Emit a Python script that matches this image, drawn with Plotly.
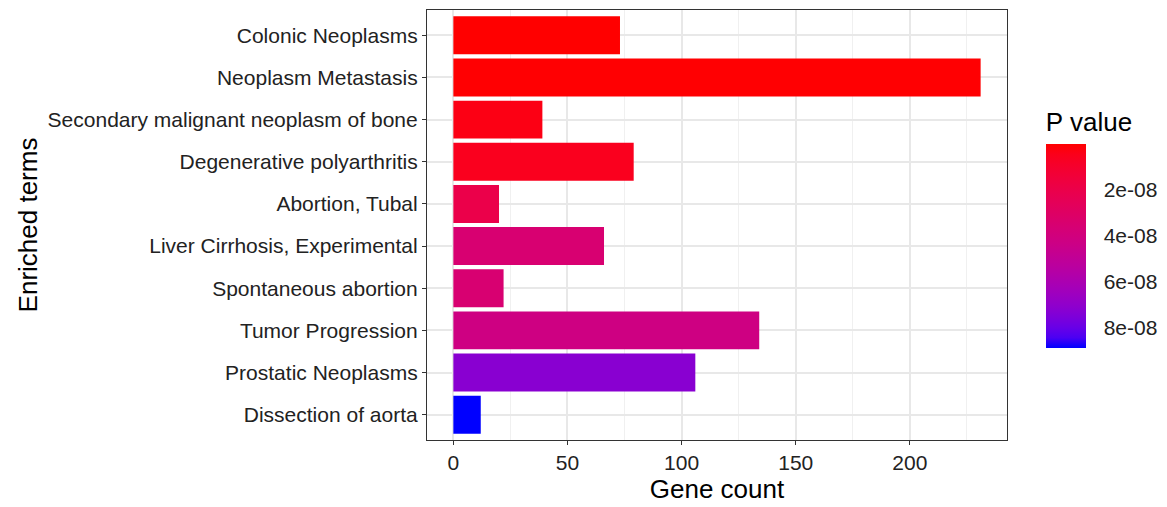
import plotly.graph_objects as go

terms = ["Colonic Neoplasms", "Neoplasm Metastasis", "Secondary malignant neoplasm of bone",
         "Degenerative polyarthritis", "Abortion, Tubal", "Liver Cirrhosis, Experimental",
         "Spontaneous abortion", "Tumor Progression", "Prostatic Neoplasms", "Dissection of aorta"]
gene_counts = [73, 231, 39, 79, 20, 66, 22, 134, 106, 12]
p_values = [1.0e-10, 4.0e-10, 3.5e-9, 5.5e-9, 2.0e-8, 3.5e-8, 3.5e-8, 4.2e-8, 7.2e-8, 8.87e-8]
cbar_tickvals = [2e-8, 4e-8, 6e-8, 8e-8]
cbar_ticktext = ["2e-08", "4e-08", "6e-08", "8e-08"]
x_tickvals = [0, 50, 100, 150, 200]
x_minor = [25, 75, 125, 175, 225]

# Lab interpolation red -> blue (like ggplot2 scale_fill_gradient)
def _lin(c):
    c = c / 255.0
    return c / 12.92 if c <= 0.04045 else ((c + 0.055) / 1.055) ** 2.4
def _unlin(c):
    c = 12.92 * c if c <= 0.0031308 else 1.055 * c ** (1 / 2.4) - 0.055
    return max(0, min(255, round(c * 255)))
def rgb2lab(rgb):
    r, g, b = [_lin(v) for v in rgb]
    X = 0.4124 * r + 0.3576 * g + 0.1805 * b
    Y = 0.2126 * r + 0.7152 * g + 0.0722 * b
    Z = 0.0193 * r + 0.1192 * g + 0.9505 * b
    def f(t):
        return t ** (1 / 3) if t > 0.008856 else 7.787 * t + 16 / 116
    fx, fy, fz = f(X / 0.95047), f(Y), f(Z / 1.08883)
    return (116 * fy - 16, 500 * (fx - fy), 200 * (fy - fz))
def lab2rgb(lab):
    L, a, b = lab
    fy = (L + 16) / 116
    fx = fy + a / 500
    fz = fy - b / 200
    def finv(t):
        return t ** 3 if t ** 3 > 0.008856 else (t - 16 / 116) / 7.787
    X, Y, Z = 0.95047 * finv(fx), finv(fy), 1.08883 * finv(fz)
    r = 3.2406 * X - 1.5372 * Y - 0.4986 * Z
    g = -0.9689 * X + 1.8758 * Y + 0.0415 * Z
    bb = 0.0557 * X - 0.2040 * Y + 1.0570 * Z
    return (_unlin(r), _unlin(g), _unlin(bb))

# Colour scale on negated p so that the colour bar reads low (red) at top
lo, hi = rgb2lab((0, 0, 255)), rgb2lab((255, 0, 0))
colorscale = []
for i in range(21):
    t = i / 20
    lab = tuple(lo[k] + (hi[k] - lo[k]) * t for k in range(3))
    r, g, b = lab2rgb(lab)
    colorscale.append([t, f"rgb({r},{g},{b})"])

neg_p = [-p for p in p_values]
neg_tickvals = [-v for v in cbar_tickvals]

FONT = "Liberation Sans, Arial, sans-serif"
TXT = "#222222"

fig = go.Figure(go.Bar(
    x=gene_counts, y=terms, orientation="h", width=0.9,
    customdata=p_values,
    hovertemplate="%{y}<br>Gene count: %{x}<br>P value: %{customdata:.2e}<extra></extra>",
    marker=dict(
        color=neg_p, colorscale=colorscale,
        cmin=min(neg_p), cmax=max(neg_p),
        line=dict(width=0),
        colorbar=dict(
            title=dict(text="P value", side="top", font=dict(size=26, color="black", family=FONT)),
            tickvals=neg_tickvals, ticktext=cbar_ticktext,
            tickfont=dict(size=21, color=TXT, family=FONT),
            ticks="outside", ticklen=14, tickcolor="rgba(0,0,0,0)", tickwidth=1,
            thickness=40, thicknessmode="pixels",
            len=239, lenmode="pixels",
            x=1.0670, xanchor="left", xpad=0,
            y=0.770, yanchor="top", ypad=0,
            outlinewidth=0,
        ),
    ),
    showlegend=False,
))

fig.update_layout(
    width=1167, height=507,
    margin=dict(l=427, r=155, t=9, b=63),
    plot_bgcolor="white", paper_bgcolor="white",
    font=dict(family=FONT, color="black"),
    bargap=0.1,
)
fig.update_xaxes(
    range=[-11.55, 242.55], tickvals=x_tickvals,
    showgrid=True, gridcolor="#E8E8E8", gridwidth=1.5,
    minor=dict(tickvals=x_minor, showgrid=True, gridcolor="#F0F0F0", gridwidth=1, ticks=""),
    showline=True, linecolor="#333333", linewidth=1.2, mirror=True,
    ticks="outside", ticklen=4, tickcolor="#333333", tickwidth=1,
    tickfont=dict(size=21, color=TXT, family=FONT),
    zeroline=False,
    title=dict(text="Gene count", font=dict(size=26, color="black", family=FONT), standoff=6),
)
fig.update_yaxes(
    categoryorder="array", categoryarray=terms,
    range=[9.6, -0.6],
    showgrid=True, gridcolor="#E8E8E8", gridwidth=1.5,
    showline=True, linecolor="#333333", linewidth=1.2, mirror=True,
    ticks="outside", ticklen=4, tickcolor="#333333", tickwidth=1,
    tickfont=dict(size=21, color=TXT, family=FONT),
    title=dict(text="Enriched terms", font=dict(size=26, color="black", family=FONT), standoff=2),
)

fig.write_html("out.html")
